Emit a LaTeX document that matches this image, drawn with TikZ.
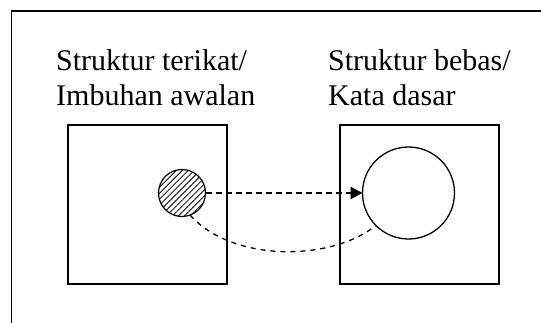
\documentclass[tikz,border=0pt]{standalone}
\usepackage{fontspec}
\setmainfont{Liberation Serif}
\usetikzlibrary{arrows.meta,patterns.meta}
\begin{document}
\begin{tikzpicture}[x=1pt,y=-1pt,
  frameline/.style={line width=1.5pt},
  boxnode/.style={draw,line width=1.4pt,minimum width=159pt,minimum height=159pt,inner sep=0pt,outer sep=0pt},
  labeltext/.style={anchor=north west,inner sep=0pt,align=left,font=\fontsize{30}{35}\selectfont},
  hatched/.style={circle,draw,line width=1.2pt,minimum size=47pt,inner sep=0pt,outer sep=0pt,
    pattern={Lines[angle=45,distance=4.2pt,line width=0.8pt]}},
  bigcirc/.style={circle,draw,line width=1.3pt,minimum size=92pt,inner sep=0pt,outer sep=0pt},
  dasharrow/.style={line width=2.4pt,dash pattern=on 6pt off 4pt,-{Triangle[length=12pt,width=12pt]}},
  dashcurve/.style={line width=1.3pt,dash pattern=on 5pt off 5pt}]
\useasboundingbox (0,0) rectangle (541,323);
\fill[white] (0,0) rectangle (541,323);
\draw[frameline] (11.5,323) -- (11.5,11) -- (541,11);
\node[labeltext] (lt) at (56,49) {Struktur terikat/\\Imbuhan awalan};
\node[labeltext] (rt) at (328,49) {Struktur bebas/\\Kata dasar};
\node[boxnode] (lbox) at (147.5,204.5) {};
\node[boxnode] (rbox) at (419.5,204.5) {};
\node[hatched] (hc) at (182,193) {};
\node[bigcirc] (bc) at (408.5,193) {};
\draw[dasharrow] (hc.east) -- (bc.west);
\draw[dashcurve] (hc.-70) .. controls (232,262) and (330,262) .. (bc.225);
\end{tikzpicture}
\end{document}
